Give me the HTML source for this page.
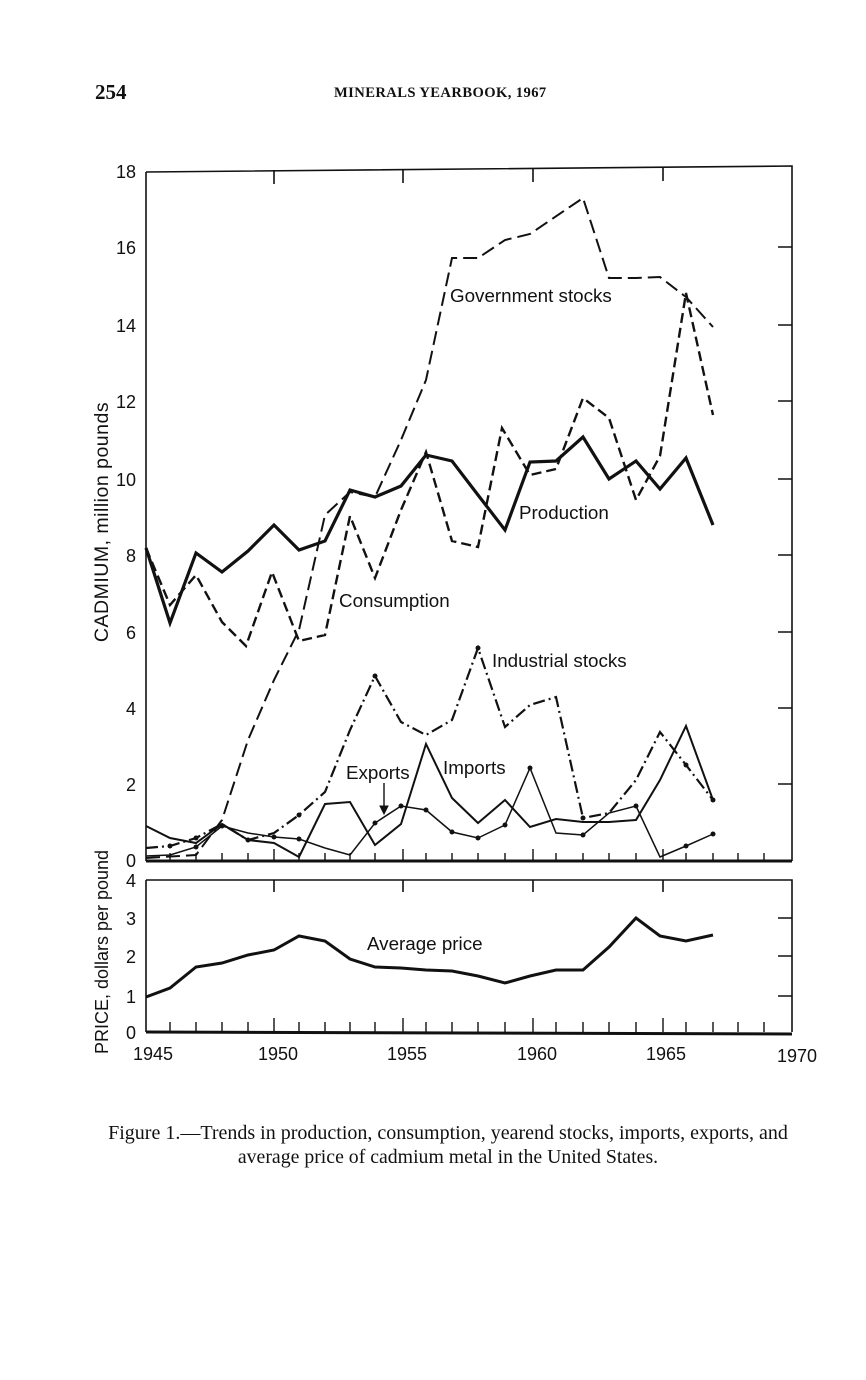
<!DOCTYPE html>
<html><head><meta charset="utf-8"><style>
html,body{margin:0;padding:0;background:#fff;}
body{width:866px;height:1380px;position:relative;overflow:hidden;}
svg{position:absolute;left:0;top:0;}
</style></head><body>
<svg width="866" height="1380" viewBox="0 0 866 1380" xmlns="http://www.w3.org/2000/svg">
<g font-family="Liberation Serif, serif" fill="#111">
<text x="95" y="99" font-size="21" font-weight="bold">254</text>
<text x="334" y="97" font-size="14.6" font-weight="bold" letter-spacing="0.4">MINERALS YEARBOOK, 1967</text>
<text x="448" y="1139" font-size="20" text-anchor="middle">Figure 1.—Trends in production, consumption, yearend stocks, imports, exports, and</text>
<text x="448" y="1163" font-size="19.8" text-anchor="middle">average price of cadmium metal in the United States.</text>
</g>
<g fill="none" stroke="#111">
<path d="M146 172 L792 166 L792 861 M146 172 L146 861" stroke-width="1.6"/>
<path d="M146 861 L792 861" stroke-width="3"/>
<path d="M274 170 v14 M403 169 v14 M533 168 v14 M663 167 v14" stroke-width="1.6"/>
<path d="M778 247 h14 M778 325 h14 M778 401 h14 M778 479 h14 M778 555 h14 M778 632 h14 M778 708 h14 M778 784 h14" stroke-width="1.6"/>
<path d="M170 861v-8 M196 861v-8 M222 861v-8 M248 861v-8 M274 861v-12 M299 861v-8 M325 861v-8 M350 861v-8 M375 861v-8 M403 861v-12 M426 861v-8 M452 861v-8 M478 861v-8 M505 861v-8 M533 861v-12 M556 861v-8 M583 861v-8 M609 861v-8 M636 861v-8 M663 861v-12 M686 861v-8 M713 861v-8 M738 861v-8 M764 861v-8" stroke-width="1.4"/>
<path d="M146 880 L792 880 L792 1032 M146 880 L146 1032" stroke-width="1.6"/>
<path d="M146 1032 L792 1034" stroke-width="3"/>
<path d="M274 880 v12 M403 880 v12 M533 880 v12 M663 880 v12 M778 918 h14 M778 956 h14 M778 996 h14" stroke-width="1.6"/>
<path d="M170 1032v-10 M196 1032v-10 M222 1032v-10 M248 1032v-10 M274 1032v-14 M299 1032v-10 M325 1032v-10 M350 1032v-10 M375 1032v-10 M403 1032v-14 M426 1032v-10 M452 1032v-10 M478 1032v-10 M505 1032v-10 M533 1032v-14 M556 1032v-10 M583 1032v-10 M609 1032v-10 M636 1032v-10 M663 1032v-14 M686 1032v-10 M713 1032v-10 M738 1032v-10 M764 1032v-10" stroke-width="1.4"/>
<polyline stroke-width="2" stroke-dasharray="14,6" points="146,858 196,855 222,820 248,740 274,680 299,630 325,515 350,492 375,497 401,440 426,380 452,258 478,258 505,240 530,234 583,198 609,278 636,278 660,277 686,297 713,327"/>
<polyline stroke-width="3.2" points="146,548 170,623 196,553 222,572 248,551 274,525 299,550 325,541 350,490 375,497 401,486 426,455 452,461 478,495 505,530 530,462 556,461 583,437 609,479 636,461 660,489 686,458 713,525"/>
<polyline stroke-width="2.4" stroke-dasharray="10,5" points="146,548 170,605 196,575 222,622 246,646 272,572 299,641 325,635 350,516 375,578 401,510 426,452 452,541 478,547 502,428 530,475 556,469 583,398 609,418 636,500 660,456 686,293 713,415"/>
<polyline stroke-width="2.2" stroke-dasharray="12,4,2,4" points="146,848 170,846 196,838 222,824 248,840 274,833 299,815 325,792 350,730 375,676 401,722 426,735 452,720 478,648 505,727 530,705 556,697 583,818 609,813 636,780 660,732 686,765 713,800"/>
<polyline stroke-width="2" points="146,826 170,838 196,843 222,824 248,840 274,843 299,857 325,804 350,802 375,845 401,824 426,744 452,798 478,823 505,800 530,827 556,819 583,822 609,822 636,820 660,780 686,726 713,800"/>
<polyline stroke-width="1.5" points="146,856 170,855 196,847 222,826 248,833 274,837 299,839 325,848 350,855 375,823 401,806 426,810 452,832 478,838 505,825 530,768 556,833 583,835 609,813 636,806 660,857 686,846 713,834"/>
<path d="M384 783 v28" stroke-width="1.4"/>
<path d="M380 806 l4 8 l4 -8 z" fill="#111"/>
<polyline stroke-width="3" points="146,997 170,988 196,967 222,963 248,955 274,950 299,936 325,941 350,959 375,967 401,968 426,970 452,971 478,976 505,983 530,976 556,970 583,970 609,947 636,918 660,936 686,941 713,935"/>
</g>
<g fill="#111">
<circle cx="170" cy="846" r="2.5"/><circle cx="196" cy="838" r="2.5"/><circle cx="248" cy="840" r="2.5"/><circle cx="299" cy="815" r="2.5"/><circle cx="375" cy="676" r="2.5"/><circle cx="478" cy="648" r="2.5"/><circle cx="583" cy="818" r="2.5"/><circle cx="686" cy="765" r="2.5"/>
<circle cx="196" cy="847" r="2.5"/><circle cx="222" cy="826" r="2.5"/><circle cx="274" cy="837" r="2.5"/><circle cx="299" cy="839" r="2.5"/><circle cx="375" cy="823" r="2.5"/><circle cx="401" cy="806" r="2.5"/><circle cx="426" cy="810" r="2.5"/><circle cx="452" cy="832" r="2.5"/><circle cx="478" cy="838" r="2.5"/><circle cx="505" cy="825" r="2.5"/><circle cx="530" cy="768" r="2.5"/><circle cx="583" cy="835" r="2.5"/><circle cx="636" cy="806" r="2.5"/><circle cx="686" cy="846" r="2.5"/><circle cx="713" cy="834" r="2.5"/><circle cx="713" cy="800" r="2.5"/>
</g>
<g font-family="Liberation Sans, DejaVu Sans, sans-serif" fill="#111" font-size="18.8">
<text x="450" y="302">Government stocks</text>
<text x="519" y="519">Production</text>
<text x="339" y="607">Consumption</text>
<text x="492" y="667">Industrial stocks</text>
<text x="346" y="779">Exports</text>
<text x="443" y="774">Imports</text>
<text x="367" y="950">Average price</text>
<g text-anchor="end" font-size="18">
<text x="136" y="178">18</text><text x="136" y="254">16</text><text x="136" y="332">14</text><text x="136" y="408">12</text><text x="136" y="486">10</text><text x="136" y="562">8</text><text x="136" y="639">6</text><text x="136" y="715">4</text><text x="136" y="791">2</text><text x="136" y="867">0</text>
<text x="136" y="887">4</text><text x="136" y="925">3</text><text x="136" y="963">2</text><text x="136" y="1003">1</text><text x="136" y="1039">0</text>
</g>
<g text-anchor="middle" font-size="18">
<text x="153" y="1060">1945</text><text x="278" y="1060">1950</text><text x="407" y="1060">1955</text><text x="537" y="1060">1960</text><text x="666" y="1060">1965</text><text x="797" y="1062">1970</text>
</g>
<text transform="translate(108,522) rotate(-90)" text-anchor="middle" font-size="19.5" letter-spacing="0.5">CADMIUM, million pounds</text>
<text transform="translate(108,952) rotate(-90)" text-anchor="middle" font-size="18">PRICE, dollars per pound</text>
</g>
</svg>
</body></html>
